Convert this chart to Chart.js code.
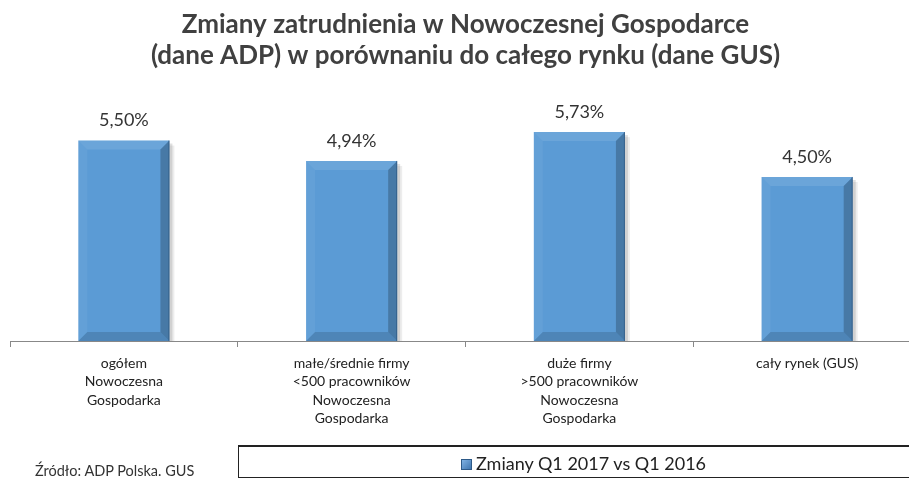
<!DOCTYPE html>
<html lang="pl">
<head>
    <meta charset="UTF-8">
    <title>Zmiany zatrudnienia</title>
    <script src="https://cdn.jsdelivr.net/npm/chart.js"></script>
    <style>
        body {
            margin: 0;
            padding: 0;
            width: 909px;
            height: 479px;
            overflow: hidden;
            background: #fff;
            position: relative;
            font-family: Lato, "Open Sans", sans-serif;
        }
        #wrap {
            position: absolute;
            left: 0;
            top: 0;
            width: 921px;
            height: 479px;
        }
        #legendBox {
            position: absolute;
            left: 238px;
            top: 445px;
            width: 700px;
            height: 33px;
            border: 1px solid #222;
            border-top-width: 2px;
            box-sizing: border-box;
        }
        #legendItem {
            position: absolute;
            left: 222px;
            top: 5px;
            font-size: 18px;
            line-height: 22px;
            color: #222;
            white-space: nowrap;
        }
        #legendItem i {
            display: inline-block;
            width: 9px;
            height: 9px;
            margin-right: 4px;
            background: linear-gradient(135deg, #7fb2e3, #3f76b0);
            border: 1px solid #2d5a88;
        }
        #source {
            position: absolute;
            left: 35px;
            top: 463px;
            font-size: 14.5px;
            line-height: 16px;
            color: #333;
            white-space: nowrap;
        }
    </style>
</head>
<body>
    <div id="wrap"><canvas id="chart"></canvas></div>
    <div id="legendBox"><span id="legendItem"><i></i>Zmiany Q1 2017 vs Q1 2016</span></div>
    <div id="source">Źródło: ADP Polska. GUS</div>

    <script>
        const titleLines = [
            'Zmiany zatrudnienia w Nowoczesnej Gospodarce',
            '(dane ADP) w porównaniu do całego rynku (dane GUS)'
        ];
        const categories = [
            ['ogółem', 'Nowoczesna', 'Gospodarka'],
            ['małe/średnie firmy', '<500 pracowników', 'Nowoczesna', 'Gospodarka'],
            ['duże firmy', '>500 pracowników', 'Nowoczesna', 'Gospodarka'],
            ['cały rynek (GUS)']
        ];
        const seriesLabel = 'Zmiany Q1 2017 vs Q1 2016';
        const values = [5.50, 4.94, 5.73, 4.50];

        // value labels above bars, Polish decimal comma
        const valueLabels = {
            id: 'valueLabels',
            afterDatasetsDraw(chart) {
                const ctx = chart.ctx;
                const meta = chart.getDatasetMeta(0);
                ctx.save();
                ctx.font = '18px Lato, sans-serif';
                ctx.fillStyle = '#333';
                ctx.textAlign = 'center';
                ctx.textBaseline = 'middle';
                meta.data.forEach((bar, i) => {
                    const txt = values[i].toFixed(2).replace('.', ',') + '%';
                    ctx.fillText(txt, bar.x, bar.y - 20);
                });
                ctx.restore();
            }
        };

        // excel-like bevel + shadow on the bars
        const bevel = {
            id: 'bevel',
            beforeDatasetsDraw(chart) {
                const ctx = chart.ctx;
                ctx.save();
                chart.getDatasetMeta(0).data.forEach(bar => {
                    const l = bar.x - bar.width / 2, r = bar.x + bar.width / 2;
                    ctx.fillStyle = 'rgba(0,0,0,0.12)';
                    ctx.fillRect(l + 3, bar.y + 3, bar.width, bar.base - bar.y - 3);
                    ctx.fillStyle = 'rgba(0,0,0,0.07)';
                    ctx.fillRect(r, bar.y + 5, 5, bar.base - bar.y - 5);
                });
                ctx.restore();
            },
            afterDatasetsDraw(chart) {
                const ctx = chart.ctx;
                ctx.save();
                chart.getDatasetMeta(0).data.forEach(bar => {
                    const l = bar.x - bar.width / 2, r = bar.x + bar.width / 2;
                    const t = bar.y, b = bar.base, s = 9;
                    const poly = (pts, col) => {
                        ctx.beginPath();
                        ctx.moveTo(pts[0][0], pts[0][1]);
                        pts.slice(1).forEach(p => ctx.lineTo(p[0], p[1]));
                        ctx.closePath();
                        ctx.fillStyle = col;
                        ctx.fill();
                    };
                    poly([[l, t], [r, t], [r - s, t + s], [l + s, t + s]], 'rgba(255,255,255,0.10)');
                    poly([[l, t], [l + s, t + s], [l + s, b - s], [l, b]], 'rgba(255,255,255,0.05)');
                    poly([[r, t], [r, b], [r - s, b - s], [r - s, t + s]], 'rgba(0,0,0,0.22)');
                    poly([[l, b], [r, b], [r - s, b - s], [l + s, b - s]], 'rgba(0,0,0,0.14)');
                    ctx.strokeStyle = 'rgba(40,80,120,0.6)';
                    ctx.lineWidth = 1;
                    ctx.beginPath();
                    ctx.moveTo(r - 0.5, t);
                    ctx.lineTo(r - 0.5, b);
                    ctx.stroke();
                });
                ctx.restore();
            }
        };

        new Chart(document.getElementById('chart'), {
            type: 'bar',
            data: {
                labels: categories,
                datasets: [{
                    label: seriesLabel,
                    data: values,
                    backgroundColor: '#5B9BD5',
                    borderWidth: 0,
                    barPercentage: 0.8,
                    categoryPercentage: 0.5
                }]
            },
            options: {
                responsive: true,
                maintainAspectRatio: false,
                animation: false,
                layout: { padding: { left: 10, right: 0, top: 0, bottom: 38 } },
                plugins: {
                    legend: { display: false },
                    tooltip: { enabled: false },
                    title: {
                        display: true,
                        text: titleLines,
                        color: '#404040',
                        font: { family: 'Lato, sans-serif', size: 26, weight: 'bold', lineHeight: 1.2 },
                        padding: { top: 9, bottom: 25 }
                    }
                },
                scales: {
                    x: {
                        offset: true,
                        grid: {
                            offset: true,
                            drawOnChartArea: false,
                            drawTicks: true,
                            tickLength: 6,
                            color: '#888'
                        },
                        border: { color: '#888' },
                        ticks: {
                            color: '#222',
                            padding: 7,
                            maxRotation: 0,
                            autoSkip: false,
                            font: { family: 'Lato, sans-serif', size: 14, lineHeight: 1.32 }
                        },
                        afterFit(scale) { scale.height = 100; }
                    },
                    y: {
                        display: false,
                        min: 0,
                        max: 6.71
                    }
                }
            },
            plugins: [bevel, valueLabels]
        });
    </script>
</body>
</html>
